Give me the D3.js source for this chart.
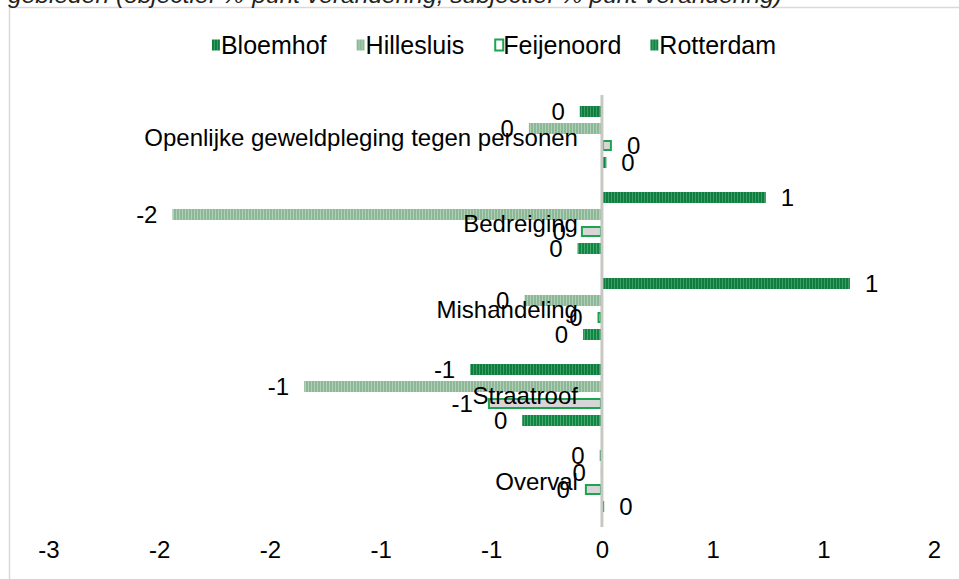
<!DOCTYPE html>
<html><head><meta charset="utf-8">
<script src="https://cdn.jsdelivr.net/npm/d3@7"></script>
<style>
html,body{margin:0;padding:0;background:#fff;}
svg{display:block;font-family:"Liberation Sans",Arial,sans-serif;}
</style></head>
<body>
<svg id="chart" width="959" height="579"></svg>
<script>
const categories = ["Openlijke geweldpleging tegen personen","Bedreiging","Mishandeling","Straatroof","Overval"];
const seriesNames = ["Bloemhof","Hillesluis","Feijenoord","Rotterdam"];
const bloemhof   = [-0.10,  0.74,  1.12, -0.595, -0.01];
const hillesluis = [-0.33, -1.94, -0.35, -1.345, -0.005];
const feijenoord = [ 0.045,-0.095,-0.02, -0.515, -0.077];
const rotterdam  = [ 0.02, -0.11, -0.085,-0.36,   0.01];
const xTicks = [-2.5,-2,-1.5,-1,-0.5,0,0.5,1,1.5];
const titleText = "gebieden (objectief %-punt verandering, subjectief % punt verandering)";

const seriesValues = [bloemhof, hillesluis, feijenoord, rotterdam];
const fmt = v => { const r = Math.sign(v)*Math.round(Math.abs(v)); return r === 0 ? "0" : String(r); };

const svg = d3.select("#chart");
const defs = svg.append("defs");
function stripe(id, c1, c2){
  const p = defs.append("pattern").attr("id", id).attr("patternUnits","userSpaceOnUse")
    .attr("width",3).attr("height",10);
  p.append("rect").attr("width",3).attr("height",10).attr("fill",c1);
  p.append("rect").attr("x",2).attr("width",1).attr("height",10).attr("fill",c2);
}
stripe("pBloem", "#0f7d40", "#3c9d62");
stripe("pHille", "#8db898", "#b0cfb6");
stripe("pRott",  "#0f8644", "#48a86c");
const fills = ["url(#pBloem)","url(#pHille)","#d6d6d6","url(#pRott)"];
const strokes = ["none","none","#1ea352","none"];
const legendFills = ["url(#pBloem)","url(#pHille)","#fff","url(#pRott)"];

// frame
svg.append("path").attr("d","M9.5,579 V7.5 H959").attr("fill","none").attr("stroke","#d9d9d9").attr("stroke-width",1.5);

// title (cropped)
svg.append("text").attr("x",8).attr("y",2.5).attr("font-style","italic").attr("font-size",22)
  .attr("textLength",774).attr("lengthAdjust","spacingAndGlyphs").attr("fill","#222").text(titleText);

const x = d3.scaleLinear().domain([-2.5,1.5]).range([48.5,934]);
const y0 = d3.scaleBand().domain(categories).range([95,525]);
const y1 = d3.scaleBand().domain(seriesNames).range([11,73]).paddingInner(6/17).paddingOuter(0);

const rows = [];
categories.forEach((c,i)=>seriesNames.forEach((s,j)=>rows.push({c,s,j,v:seriesValues[j][i]})));

const g = svg.append("g");
g.selectAll("rect.bar").data(rows).join("rect").attr("class","bar")
  .attr("x", d => Math.min(x(0), x(d.v)) + (d.j===2?1:0))
  .attr("y", d => y0(d.c)+y1(d.s) + (d.j===2?1:0))
  .attr("width", d => Math.max(0, Math.abs(x(d.v)-x(0)) - (d.j===2?2:0)))
  .attr("height", d => y1.bandwidth() - (d.j===2?2:0))
  .attr("fill", d => fills[d.j])
  .attr("stroke", d => strokes[d.j]).attr("stroke-width",2);

// zero axis line
g.append("line").attr("x1",x(0)).attr("x2",x(0)).attr("y1",95).attr("y2",527)
  .attr("stroke","#c8c8c3").attr("stroke-width",3);

// category labels
g.selectAll("text.cat").data(categories).join("text").attr("class","cat")
  .attr("x", x(0)-24).attr("y", d => y0(d)+y0.bandwidth()/2).attr("dy","0.35em")
  .attr("text-anchor","end").attr("font-size",24).attr("fill","#000").text(d=>d);

// data labels
g.selectAll("text.lbl").data(rows).join("text").attr("class","lbl")
  .attr("x", d => d.v >= 0 ? x(d.v)+15 : x(d.v)-15)
  .attr("text-anchor", d => d.v >= 0 ? "start" : "end")
  .attr("y", d => y0(d.c)+y1(d.s)+y1.bandwidth()/2).attr("dy","0.35em")
  .attr("font-size",24).attr("fill","#000").text(d=>fmt(d.v));

// x axis (labels only)
const ax = svg.append("g").attr("transform","translate(0,527)")
  .call(d3.axisBottom(x).tickValues(xTicks).tickFormat(fmt).tickSize(0).tickPadding(14));
ax.select(".domain").remove();
ax.selectAll("text").attr("font-size",24).attr("font-family","Liberation Sans, Arial, sans-serif").attr("fill","#000");

// legend
const leg = svg.append("g");
const items = leg.selectAll("g").data(seriesNames).join("g");
items.append("rect").attr("width",8).attr("height",11).attr("y",-5.5).attr("x",(d,i)=>i===2?1:0)
  .attr("fill",(d,i)=>legendFills[i]).attr("stroke",(d,i)=>i===2?"#1ea352":"none").attr("stroke-width",2);
items.append("text").attr("x",9).attr("dy","0.36em").attr("font-size",25).text(d=>d);
let cx = 0; const xs = [];
items.each(function(){ xs.push(cx); cx += this.getBBox().width + 30; });
cx -= 30;
const start = 494 - cx/2;
items.attr("transform",(d,i)=>`translate(${start+xs[i]},45)`);
</script>
</body></html>
